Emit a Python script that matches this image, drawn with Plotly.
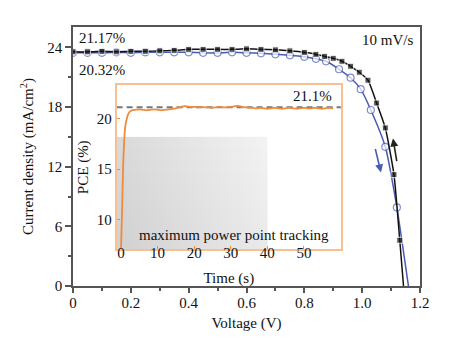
import plotly.graph_objects as go

# ---- data ----
black_v = [0.00,0.05,0.10,0.15,0.20,0.25,0.30,0.35,0.40,0.45,0.50,0.55,0.60,0.65,0.70,0.75,0.80,0.84,0.87,0.90,0.93,0.96,0.99,1.02,1.05,1.08,1.11,1.13,1.143]
black_j = [23.55,23.55,23.6,23.55,23.6,23.6,23.65,23.7,23.8,23.8,23.8,23.8,23.85,23.8,23.75,23.65,23.5,23.3,23.1,22.9,22.6,22.1,21.5,20.7,18.4,15.9,11.2,4.6,0.0]

blue_v = [0.00,0.05,0.10,0.15,0.20,0.25,0.30,0.35,0.40,0.45,0.50,0.55,0.60,0.65,0.70,0.75,0.80,0.84,0.875,0.92,0.96,0.995,1.03,1.08,1.12,1.16]
blue_j = [23.45,23.45,23.45,23.5,23.45,23.5,23.5,23.5,23.5,23.45,23.45,23.5,23.45,23.4,23.3,23.2,23.05,22.85,22.6,21.8,20.95,19.8,17.7,14.0,7.9,0.0]

time_s = [0.0,0.3,0.6,0.9,1.2,1.6,2.0,2.5,3,4,5,6,7,8,9,10,11,12,13,14,15,16,17,18,19,20,21,22,23,24,25,26,27,28,29,30,
          31,32,33,34,35,36,37,38,39,40,41,42,43,44,45,46,47,48,49,50,51,52,53,54,55,56,57,58]
pce = [7.0,11.0,15.5,18.0,19.3,20.0,20.45,20.7,20.8,20.85,20.9,20.85,20.8,20.85,20.9,20.85,20.8,20.85,20.9,20.95,21.0,21.1,21.2,21.2,21.15,21.15,21.1,21.15,21.1,21.1,21.05,21.1,21.15,21.1,21.1,21.15,
       21.2,21.25,21.15,21.1,21.05,21.05,21.0,21.05,21.0,20.95,21.0,21.05,21.0,20.95,21.0,21.05,21.0,20.95,21.0,21.05,21.0,21.0,21.05,21.0,20.95,21.0,21.05,21.0]

ref_t = [-1.2, 60.3]
ref_pce = [21.1, 21.1]

y_ticks = [0, 6, 12, 18, 24]
x_ticks = [0, 0.2, 0.4, 0.6, 0.8, 1.0, 1.2]
x_ticklabels = ["0", "0.2", "0.4", "0.6", "0.8", "1.0", "1.2"]
inset_x_ticks = [0, 10, 20, 30, 40, 50]
inset_y_ticks = [10, 15, 20]

FONT = "Liberation Serif"
ORANGE = "#f08a3c"
BORDER_OR = "#f8bf92"
BLUE = "#4a5cb0"

fig = go.Figure()

black_sizes = [6] * (len(black_v) - 1) + [0]
blue_sizes = [7] * (len(blue_v) - 1) + [0]

fig.add_trace(go.Scatter(x=blue_v, y=blue_j, mode="lines+markers",
                         line=dict(color=BLUE, width=1.5, shape="spline", smoothing=0.5),
                         marker=dict(symbol="circle", size=blue_sizes, color="white",
                                     line=dict(color=BLUE, width=1.2)),
                         showlegend=False, cliponaxis=True))
fig.add_trace(go.Scatter(x=black_v, y=black_j, mode="lines+markers",
                         line=dict(color="#111111", width=1.5, shape="spline", smoothing=0.5),
                         marker=dict(symbol="square", size=black_sizes, color="#111111"),
                         showlegend=False, cliponaxis=True))

# inset
fig.add_trace(go.Scatter(x=ref_t, y=ref_pce, xaxis="x2", yaxis="y2", mode="lines",
                         line=dict(color="#777777", width=2, dash="6px,4px"), showlegend=False))
fig.add_trace(go.Scatter(x=time_s, y=pce, xaxis="x2", yaxis="y2", mode="lines",
                         line=dict(color=ORANGE, width=1.8, shape="spline", smoothing=0.5),
                         showlegend=False))

# faint grey smudge in inset (photo artefact of the original)
shapes = [dict(type="rect", xref="x2", yref="y2", x0=-1.2, x1=40, y0=7.1, y1=18.2,
               fillcolor="rgba(150,150,155,0.12)", line=dict(width=0), layer="below")]
for k in range(24):
    x1 = 38.5 - k * 1.6
    shapes.append(dict(type="rect", xref="x2", yref="y2", x0=-1.2, x1=x1, y0=7.1, y1=18.2,
                       fillcolor="rgba(150,150,155,0.012)", line=dict(width=0), layer="below"))
for k in range(8):
    y1 = 17.0 - k * 1.2
    shapes.append(dict(type="rect", xref="x2", yref="y2", x0=-1.2, x1=40, y0=7.1, y1=y1,
                       fillcolor="rgba(150,150,155,0.012)", line=dict(width=0), layer="below"))

tickfont = dict(family=FONT, size=15, color="#111111")

fig.update_layout(
    width=452, height=346,
    margin=dict(l=73, r=32, t=27, b=60),
    paper_bgcolor="white", plot_bgcolor="white",
    font=dict(family=FONT, size=15, color="#111111"),
    shapes=shapes,
    xaxis=dict(range=[0, 1.2], tickvals=x_ticks, ticktext=x_ticklabels,
               showline=True, mirror=True, linecolor="#555555", linewidth=1.5,
               ticks="outside", ticklen=5, tickwidth=1.5, tickcolor="#555555",
               minor=dict(dtick=0.1, ticks="outside", ticklen=3, tickwidth=1.5, tickcolor="#555555"),
               showgrid=False, zeroline=False, tickfont=tickfont, ticklabelstandoff=-3,
               title=dict(text="Voltage (V)", font=dict(family=FONT, size=15), standoff=8)),
    yaxis=dict(range=[0, 26.05], tickvals=y_ticks,
               showline=True, mirror=True, linecolor="#555555", linewidth=1.5,
               ticks="outside", ticklen=6, tickwidth=1.5, tickcolor="#555555",
               minor=dict(tickvals=[3, 9, 15, 21], ticks="outside", ticklen=3, tickwidth=1.5, tickcolor="#555555"),
               showgrid=False, zeroline=False, tickfont=tickfont,
               title=dict(text="Current density (mA/cm<sup>2</sup>)", font=dict(family=FONT, size=15), standoff=10)),
    xaxis2=dict(domain=[0.126, 0.772], anchor="y2", range=[-1.17, 60.1], tickvals=inset_x_ticks,
                showline=True, mirror=True, linecolor=BORDER_OR, linewidth=2,
                ticks="inside", ticklen=3, tickcolor=ORANGE, tickwidth=1.2,
                showgrid=False, zeroline=False, tickfont=tickfont, ticklabelstandoff=-11,
                title=dict(text="Time (s)", font=dict(family=FONT, size=15), standoff=12)),
    yaxis2=dict(domain=[0.141, 0.776], anchor="x2", range=[7.06, 23.3], tickvals=inset_y_ticks,
                showline=True, mirror=True, linecolor=BORDER_OR, linewidth=2,
                ticks="inside", ticklen=3, tickcolor=ORANGE, tickwidth=1.2,
                showgrid=False, zeroline=False, tickfont=tickfont,
                title=dict(text="PCE (%)", font=dict(family=FONT, size=15), standoff=4)),
)

anns = [
    dict(x=0.0138, y=24.9, xref="x", yref="y", text="21.17%", showarrow=False, xanchor="left", yanchor="middle"),
    dict(x=0.0138, y=21.7, xref="x", yref="y", text="20.32%", showarrow=False, xanchor="left", yanchor="middle"),
    dict(x=1.183, y=24.7, xref="x", yref="y", text="10 mV/s", showarrow=False, xanchor="right", yanchor="middle"),
    dict(x=58.1, y=22.2, xref="x2", yref="y2", text="21.1%", showarrow=False, xanchor="right", yanchor="middle"),
    dict(x=4.4, y=8.5, xref="x2", yref="y2", text="maximum power point tracking", showarrow=False,
         xanchor="left", yanchor="middle"),
    # scan direction arrows
    dict(x=1.1066, y=14.84, ax=1.1205, ay=12.42, xref="x", yref="y", axref="x", ayref="y", text="",
         showarrow=True, arrowhead=2, arrowsize=1, arrowwidth=1.6, arrowcolor="#222222"),
    dict(x=1.0651, y=11.42, ax=1.0443, ay=13.93, xref="x", yref="y", axref="x", ayref="y", text="",
         showarrow=True, arrowhead=2, arrowsize=1, arrowwidth=1.6, arrowcolor=BLUE),
]
for a in anns:
    a.setdefault("font", dict(family=FONT, size=15, color="#111111"))
fig.update_layout(annotations=anns)

fig.write_html("out.html")
